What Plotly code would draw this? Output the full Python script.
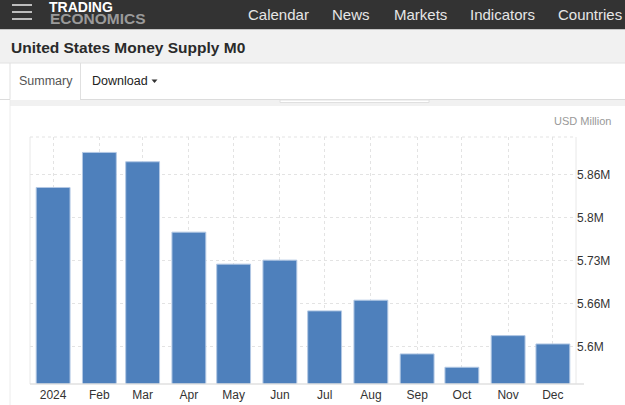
import plotly.graph_objects as go

# ---- data ----
months = ["2024-01-01", "2024-02-01", "2024-03-01", "2024-04-01", "2024-05-01", "2024-06-01",
          "2024-07-01", "2024-08-01", "2024-09-01", "2024-10-01", "2024-11-01", "2024-12-01"]
month_labels = ["2024", "Feb", "Mar", "Apr", "May", "Jun", "Jul", "Aug", "Sep", "Oct", "Nov", "Dec"]
money_supply = [5842500, 5896300, 5882000, 5773900, 5724750, 5730900,
                5652970, 5669400, 5586900, 5566400, 5615000, 5602200]  # USD Million
y_tick_values = [5598000, 5664000, 5730000, 5796000, 5862000]
y_tick_labels = ["5.6M", "5.66M", "5.73M", "5.8M", "5.86M"]

W, H = 625, 405
L, R, T, B = 30, 576, 137, 384  # plot area in pixels

def px(x):
    return (x - L) / (R - L)

def py(y):
    return (B - y) / (B - T)

FONT = "Liberation Sans, Arial, sans-serif"
GRID = "#e3e3e3"

fig = go.Figure()
fig.add_trace(go.Bar(
    x=months, y=money_supply,
    width=22.7 * 86400000,
    marker=dict(color="#4e80bc", line=dict(color="#b3c8e4", width=1)),
    hoverinfo="x+y",
))

shapes = []
annotations = []

# header bar
shapes.append(dict(type="rect", xref="paper", yref="paper", x0=px(0), x1=px(W), y0=py(0), y1=py(29.5),
                   fillcolor="#333333", line=dict(width=0), layer="above"))
for yy in [5, 12, 19]:
    shapes.append(dict(type="line", xref="paper", yref="paper", x0=px(12), x1=px(32), y0=py(yy), y1=py(yy),
                       line=dict(color="#bdbdbd", width=2)))
annotations.append(dict(text="<b>TRADING</b>", x=px(47), y=py(6.5), xref="paper", yref="paper",
                        xanchor="left", yanchor="middle", showarrow=False,
                        font=dict(family=FONT, size=14, color="#ffffff")))
annotations.append(dict(text="<b>ECONOMICS</b>", x=px(48), y=py(18.5), xref="paper", yref="paper",
                        xanchor="left", yanchor="middle", showarrow=False,
                        font=dict(family=FONT, size=15.5, color="#9a9a9a")))
for label, xx in [("Calendar", 246), ("News", 330), ("Markets", 392), ("Indicators", 468), ("Countries", 556)]:
    annotations.append(dict(text=label, x=px(xx), y=py(14), xref="paper", yref="paper",
                            xanchor="left", yanchor="middle", showarrow=False,
                            font=dict(family=FONT, size=15, color="#e6e6e6")))

# title band
shapes.append(dict(type="rect", xref="paper", yref="paper", x0=px(0), x1=px(W), y0=py(29.5), y1=py(63),
                   fillcolor="#f1f1f1", line=dict(width=0)))
annotations.append(dict(text="<b>United States Money Supply M0</b>", x=px(9), y=py(47.5), xref="paper", yref="paper",
                        xanchor="left", yanchor="middle", showarrow=False,
                        font=dict(family=FONT, size=15.5, color="#2a2a2a")))
shapes.append(dict(type="line", xref="paper", yref="paper", x0=px(0), x1=px(W), y0=py(63), y1=py(63),
                   line=dict(color="#e2e2e2", width=1)))

# tabs row
shapes.append(dict(type="line", xref="paper", yref="paper", x0=px(80), x1=px(W), y0=py(99.5), y1=py(99.5),
                   line=dict(color="#dcdcdc", width=1)))
shapes.append(dict(type="line", xref="paper", yref="paper", x0=px(0), x1=px(10), y0=py(99.5), y1=py(99.5),
                   line=dict(color="#dcdcdc", width=1)))
shapes.append(dict(type="line", xref="paper", yref="paper", x0=px(10), x1=px(10), y0=py(63), y1=py(99.5),
                   line=dict(color="#e0e0e0", width=1)))
shapes.append(dict(type="line", xref="paper", yref="paper", x0=px(80.5), x1=px(80.5), y0=py(63), y1=py(99.5),
                   line=dict(color="#e0e0e0", width=1)))
annotations.append(dict(text="Summary", x=px(17), y=py(81.5), xref="paper", yref="paper",
                        xanchor="left", yanchor="middle", showarrow=False,
                        font=dict(family=FONT, size=12.5, color="#555555")))
annotations.append(dict(text="Download", x=px(89.5), y=py(81.5), xref="paper", yref="paper",
                        xanchor="left", yanchor="middle", showarrow=False,
                        font=dict(family=FONT, size=12.5, color="#222222")))
shapes.append(dict(type="path", xref="paper", yref="paper",
                   path=f"M {px(151.5)} {py(79.5)} L {px(157.5)} {py(79.5)} L {px(154.5)} {py(83)} Z",
                   fillcolor="#333333", line=dict(width=0)))

# gray strip beneath tabs
shapes.append(dict(type="rect", xref="paper", yref="paper", x0=px(10), x1=px(W), y0=py(100), y1=py(106),
                   fillcolor="#f1f1f1", line=dict(width=0)))
shapes.append(dict(type="rect", xref="paper", yref="paper", x0=px(280), x1=px(429), y0=py(100), y1=py(102.5),
                   fillcolor="#ffffff", line=dict(color="#e0e0e0", width=1)))
# chart panel left border
shapes.append(dict(type="line", xref="paper", yref="paper", x0=px(10), x1=px(10), y0=py(100), y1=py(H),
                   line=dict(color="#ececec", width=1)))

# plot frame
shapes.append(dict(type="line", xref="paper", yref="paper", x0=px(L), x1=px(L), y0=py(T), y1=py(B),
                   line=dict(color="#e8e8e8", width=1)))
shapes.append(dict(type="line", xref="paper", yref="paper", x0=px(R), x1=px(R), y0=py(T), y1=py(B),
                   line=dict(color="#e8e8e8", width=1)))
shapes.append(dict(type="line", xref="paper", yref="paper", x0=px(L), x1=px(R), y0=py(T), y1=py(T),
                   line=dict(color=GRID, width=1, dash="dot")))
shapes.append(dict(type="line", xref="paper", yref="paper", x0=px(L), x1=px(584), y0=py(B), y1=py(B),
                   line=dict(color="#e0e0e0", width=1.5)))

annotations.append(dict(text="USD Million", x=px(613), y=py(121), xref="paper", yref="paper",
                        xanchor="right", yanchor="middle", showarrow=False,
                        font=dict(family=FONT, size=11, color="#999999")))

fig.update_layout(
    width=W, height=H, autosize=False,
    margin=dict(l=L, r=W - R, t=T, b=H - B, pad=0, autoexpand=False),
    paper_bgcolor="#ffffff", plot_bgcolor="#ffffff",
    showlegend=False,
    shapes=shapes, annotations=annotations,
    font=dict(family=FONT, size=12, color="#333333"),
    xaxis=dict(type="date", range=["2023-12-16 12:00", "2024-12-16 12:00"],
               tickmode="array", tickvals=months, ticktext=month_labels,
               showgrid=True, gridcolor=GRID, griddash="dot", gridwidth=1,
               showline=False, zeroline=False, ticks="", automargin=False,
               ticklabelstandoff=2,
               tickfont=dict(family=FONT, size=12, color="#333333")),
    yaxis=dict(side="right", range=[5540700, 5920000],
               tickmode="array", tickvals=y_tick_values, ticktext=y_tick_labels,
               showgrid=True, gridcolor=GRID, griddash="dot", gridwidth=1,
               showline=False, zeroline=False, ticks="", automargin=False,
               tickfont=dict(family=FONT, size=12, color="#333333")),
)

fig.write_html("out.html", config={"displayModeBar": False},
               post_script="document.body.style.margin='0';document.body.style.overflow='hidden';")
